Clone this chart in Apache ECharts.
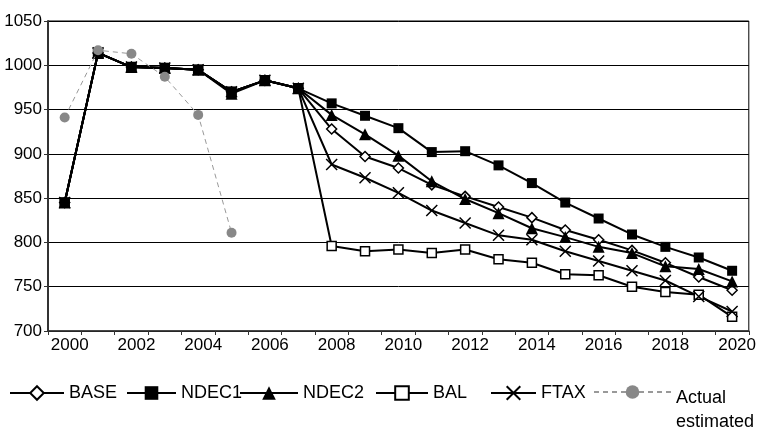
<!DOCTYPE html>
<html><head><meta charset="utf-8">
<script src="https://cdn.jsdelivr.net/npm/echarts@6/dist/echarts.min.js"></script>
<style>html,body{margin:0;padding:0;background:#fff}#c{width:759px;height:429px}</style>
</head><body><div id="c"></div>
<script>
const years = ['2000','2001','2002','2003','2004','2005','2006','2007','2008','2009','2010','2011','2012','2013','2014','2015','2016','2017','2018','2019','2020'];
const yMin = 700, yMax = 1050, yStep = 50;
const base   = [845,1014,998,997,995,970,983,974,928,897,884,865,852,840,828,814,803,791,777,761,746];
const ndec1  = [845,1014,998,997,995,970,983,974,957,943,929,902,903,887,867,845,827,809,795,783,768];
const ndec2  = [845,1014,998,997,995,968,983,974,944,922,898,869,849,833,816,806,795,788,773,770,756];
const bal    = [845,1014,998,997,995,970,983,974,796,790,792,788,792,781,777,764,763,750,744,741,716];
const ftax   = [845,1014,998,997,995,970,983,974,888,873,856,836,822,808,803,790,779,768,757,739,722];
const actual = [941,1017,1013,987,944,811];
const names = ['BASE','NDEC1','NDEC2','BAL','FTAX','Actual estimated'];

const FONT = 'Liberation Sans';
const chart = echarts.init(document.getElementById('c'));
const blackLine = {color:'#000', width:2};
const LT = 384;
function legendFor(name, left, w, extra) {
  return Object.assign({
    data:[name], left:left, top:LT, itemWidth:w, itemHeight:17, itemGap:0,
    padding:0, selectedMode:false,
    textStyle:{fontFamily:FONT, fontSize:18, color:'#000'}
  }, extra || {});
}
chart.setOption({
  animation:false,
  backgroundColor:'#fff',
  grid:{left:48, right:9, top:21, bottom:98, show:true, borderColor:'#000', borderWidth:1},
  xAxis:{
    type:'category', data:years, boundaryGap:true,
    axisLine:{lineStyle:{color:'#333', width:1.5}},
    axisTick:{show:true, interval:0, length:4, lineStyle:{color:'#333'}},
    axisLabel:{interval:1, fontFamily:FONT, fontSize:17, color:'#000', margin:6, padding:[0,0,0,10]}
  },
  yAxis:{
    type:'value', min:yMin, max:yMax, interval:yStep,
    axisLine:{show:true, lineStyle:{color:'#333', width:2}},
    axisTick:{show:true, length:4, lineStyle:{color:'#333'}},
    axisLabel:{fontFamily:FONT, fontSize:17, color:'#000', margin:6, formatter:(v)=>String(v)},
    splitLine:{lineStyle:{color:'#000', width:1}}
  },
  legend:[
    legendFor('BASE', 9, 54),
    legendFor('NDEC1', 126, 49),
    legendFor('NDEC2', 239, 58),
    legendFor('BAL', 375, 52),
    legendFor('FTAX', 490, 45),
    legendFor(names[5], 593, 77, {
      top:LT - 21,
      formatter:function(n){ var p = n.split(' '); return '{s| }\n{a|' + p[0] + '}\n{a|' + p[1] + '}'; },
      textStyle:{fontFamily:FONT, fontSize:18, color:'#000',
        rich:{s:{fontSize:10, lineHeight:36}, a:{fontFamily:FONT, fontSize:18, lineHeight:24, color:'#000'}}}
    })
  ],
  series:[
    {name:'BASE', type:'line', data:base, symbol:'diamond', symbolSize:10, z:3,
     lineStyle:blackLine, itemStyle:{color:'#fff', borderColor:'#000', borderWidth:1.5}},
    {name:'BAL', type:'line', data:bal, symbol:'rect', symbolSize:9, z:3,
     lineStyle:blackLine, itemStyle:{color:'#fff', borderColor:'#000', borderWidth:1.5}},
    {name:'FTAX', type:'line', data:ftax, symbol:'path://M0,0L10,10M0,10L10,0', symbolSize:11, z:3,
     lineStyle:blackLine, itemStyle:{color:'#000', borderColor:'#000', borderWidth:1.5}},
    {name:'NDEC2', type:'line', data:ndec2, symbol:'triangle', symbolSize:12, z:4,
     lineStyle:blackLine, itemStyle:{color:'#000'}},
    {name:'NDEC1', type:'line', data:ndec1, symbol:'rect', symbolSize:10, z:5,
     lineStyle:blackLine, itemStyle:{color:'#000'}},
    {name:names[5], type:'line', data:actual, symbol:'circle', symbolSize:10, z:6,
     lineStyle:{color:'#999', width:1, type:[5,4]}, itemStyle:{color:'#888'}}
  ]
});
</script></body></html>
